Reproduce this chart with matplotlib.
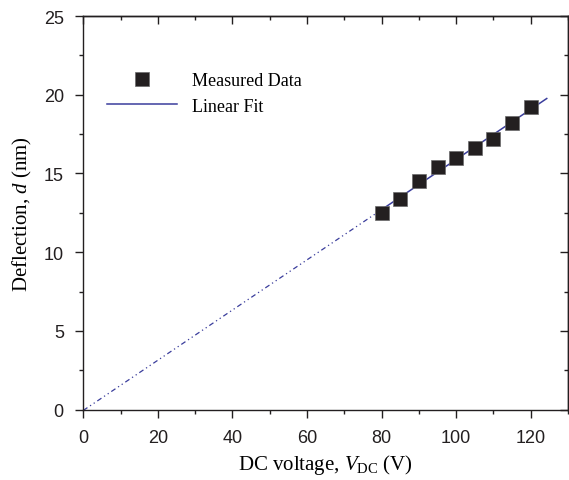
import matplotlib

matplotlib.use('Agg')
import matplotlib.pyplot as plt
from matplotlib.lines import Line2D
from matplotlib.ticker import MultipleLocator
import numpy as np

# Measured data
voltage = [80, 85, 90, 95, 100, 105, 110, 115, 120]
deflection = [12.5, 13.4, 14.5, 15.4, 16.0, 16.6, 17.2, 18.2, 19.2]

plt.rcParams['mathtext.fontset'] = 'custom'
plt.rcParams['mathtext.rm'] = 'Liberation Serif'
plt.rcParams['mathtext.it'] = 'Liberation Serif:italic'

SERIF = 'Liberation Serif'
LINE_C = '#3a3d9c'
MARK_C = '#231f20'
AX_C = '#231f20'

fig = plt.figure(figsize=(5.69, 4.81), dpi=100)
ax = fig.add_axes([83.3 / 569, 1 - 410.7 / 481, (568 - 83.3) / 569, (410.7 - 17) / 481])

# linear fit, dash-dot-dot below the data, solid over the data
slope, icpt = np.polyfit(voltage, deflection, 1)
x_lo = np.array([0, voltage[0]])
x_hi = np.array([voltage[0], 124.3])
ax.plot(x_lo, slope * x_lo + icpt, color=LINE_C, lw=0.9,
        linestyle=(0, (4, 2.5, 1, 2.5, 1, 2.5)), zorder=2)
ax.plot(x_hi, slope * x_hi + icpt, color=LINE_C, lw=1.1, zorder=2)

ax.plot(voltage, deflection, linestyle='none', marker='s', markersize=10.5,
        markerfacecolor=MARK_C, markeredgecolor='#6a6a6a', markeredgewidth=0.5, zorder=3)

ax.set_xlim(0, 130)
ax.set_ylim(0, 25)
ax.xaxis.set_major_locator(MultipleLocator(20))
ax.xaxis.set_minor_locator(MultipleLocator(10))
ax.yaxis.set_major_locator(MultipleLocator(5))
ax.yaxis.set_minor_locator(MultipleLocator(2.5))

ax.tick_params(which='both', direction='out', top=False, right=False, pad=8.5,
               width=1.0, colors=AX_C, labelsize=13, labelfontfamily='Liberation Sans')
ax.tick_params(which='major', length=5.5)
ax.tick_params(which='minor', length=3)
for s in ax.spines.values():
    s.set_linewidth(1.0)
    s.set_color(AX_C)

# top / right ticks point inward
top = ax.secondary_xaxis('top')
top.xaxis.set_major_locator(MultipleLocator(20))
top.xaxis.set_minor_locator(MultipleLocator(10))
top.tick_params(which='both', direction='in', labeltop=False, width=1.0, colors=AX_C)
top.tick_params(which='major', length=5.5)
top.tick_params(which='minor', length=3)
top.spines['top'].set_linewidth(1.0)
right = ax.secondary_yaxis('right')
right.yaxis.set_major_locator(MultipleLocator(5))
right.yaxis.set_minor_locator(MultipleLocator(2.5))
right.tick_params(which='both', direction='in', labelright=False, width=1.0, colors=AX_C)
right.tick_params(which='major', length=5.5)
right.tick_params(which='minor', length=3)
right.spines['right'].set_linewidth(1.0)

ax.set_xlabel(r'DC voltage, $V_{\rm DC}$ (V)', fontsize=15, family=SERIF, labelpad=4)
ax.set_ylabel(r'Deflection, $d$ (nm)', fontsize=15, family=SERIF, labelpad=7)

handles = [
    Line2D([], [], linestyle='none', marker='s', markersize=10.5, markerfacecolor=MARK_C,
           markeredgecolor='#6a6a6a', markeredgewidth=0.5, label='Measured Data'),
    Line2D([], [], color=LINE_C, lw=1.1, label='Linear Fit'),
]
ax.legend(handles=handles, loc='upper left', bbox_to_anchor=(0.049, 0.858), frameon=False,
          borderpad=0, borderaxespad=0, handlelength=3.9, handletextpad=0.83, labelspacing=0.48,
          prop={'family': SERIF, 'size': 13})

plt.savefig('out.png', dpi=100)
